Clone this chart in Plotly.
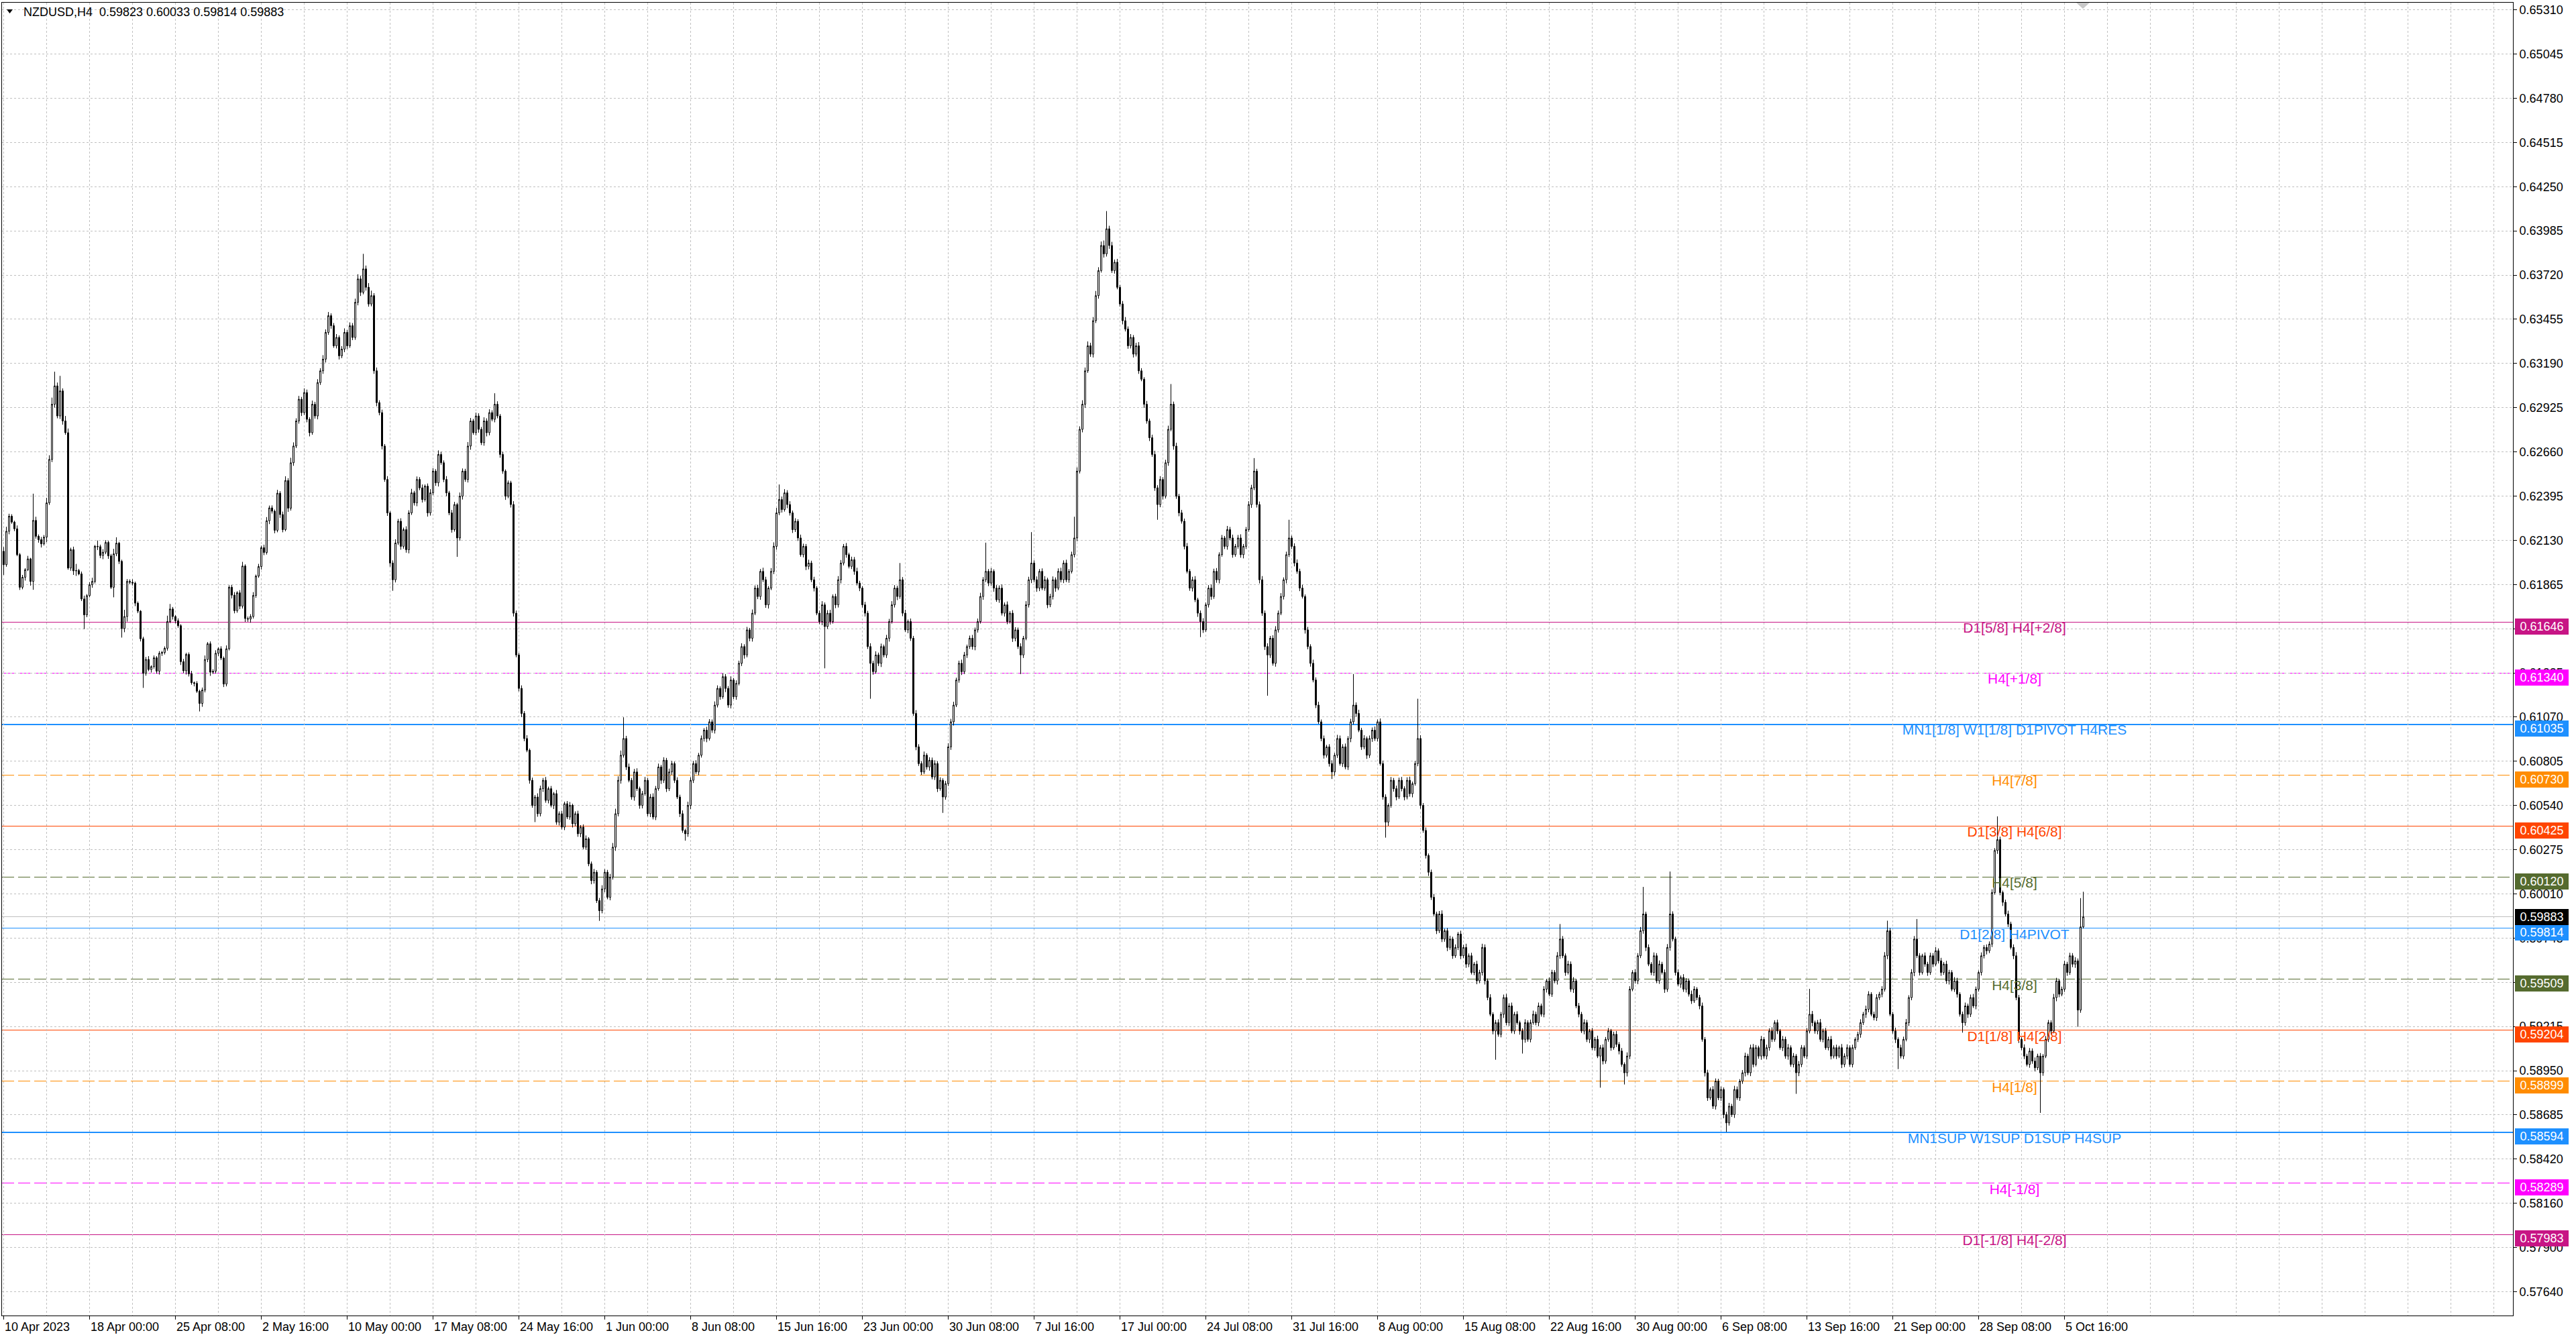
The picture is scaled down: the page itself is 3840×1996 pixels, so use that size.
import math
import plotly.graph_objects as go

# ---------------- DATA (prices in 1e-5 units) ----------------
first_open = 62070

bar_close = [
    61990, 62190, 62280, 62245, 62205, 62050, 61855, 61915, 61960, 62025,
    61890, 62255, 62160, 62140, 62115, 62155, 62360, 62620, 62950, 63060,
    62880, 63030, 62850, 62780, 61970, 62080, 61953, 61955, 61935, 61785,
    61690, 61805, 61870, 61890, 62100, 62098, 62045, 62065, 62123, 62043,
    61855, 62055, 62119, 62010, 61608, 61680, 61890, 61885, 61880, 61760,
    61712, 61547, 61340, 61423, 61363, 61380, 61433, 61353, 61460, 61465,
    61490, 61650, 61725, 61680, 61655, 61625, 61410, 61355, 61453, 61337,
    61284, 61280, 61233, 61160, 61240, 61423, 61517, 61347, 61353, 61460,
    61487, 61431, 61276, 61487, 61855, 61808, 61715, 61822, 61742, 61982,
    61668, 61665, 61680, 61806, 61922, 61979, 62092, 62063, 62253, 62330,
    62310, 62196, 62418, 62290, 62200, 62494, 62328, 62600, 62700, 62850,
    62980, 62900, 63020, 62860, 62780, 62950, 62880, 63080, 63150, 63220,
    63380, 63480, 63420, 63300, 63350, 63240, 63280, 63380, 63300, 63420,
    63350, 63560, 63700, 63620, 63760, 63650, 63550, 63600, 63150, 62960,
    62900, 62700, 62500, 62300, 62000, 61900, 62120, 62250, 62100, 62200,
    62080, 62300, 62420, 62360, 62500, 62450, 62380, 62460, 62300, 62420,
    62550, 62480, 62650, 62600, 62500, 62420, 62300, 62200, 62350, 62150,
    62400, 62550, 62500, 62700, 62850, 62780, 62880, 62800, 62720, 62850,
    62780, 62900, 62860, 62950, 62880, 62650, 62550, 62400, 62480, 62350,
    61700, 61450, 61250, 61100, 60950, 60880, 60700, 60550, 60600, 60500,
    60650, 60700, 60580, 60650, 60550, 60620, 60450, 60500, 60420, 60560,
    60480, 60550, 60440, 60500, 60380, 60420, 60300, 60350, 60200, 60100,
    60150, 59980, 59920, 60050, 60150, 60000, 60120, 60300, 60500, 60700,
    60850, 60950, 60780, 60700, 60600, 60750, 60650, 60550, 60620, 60700,
    60500, 60600, 60480, 60650, 60780, 60700, 60820, 60650, 60750, 60800,
    60700, 60600, 60500, 60400, 60380, 60550, 60700, 60800, 60750, 60850,
    60950, 61000, 60950, 61050, 61000, 61150, 61250, 61200, 61320, 61250,
    61150, 61300, 61200, 61280, 61400, 61500, 61450, 61600, 61550, 61700,
    61850, 61800, 61950, 61900, 61750, 61850, 61950, 62100, 62300, 62380,
    62320, 62420, 62350, 62300, 62200, 62250, 62150, 62050, 62100, 61980,
    62000, 61900, 61850, 61700, 61650, 61750, 61620, 61700, 61650, 61800,
    61750, 61900, 62000, 62100, 62050, 61980, 62020, 61950, 61880, 61850,
    61750, 61700, 61500, 61400, 61350, 61450, 61400, 61500, 61450, 61550,
    61650, 61750, 61850, 61800, 61900, 61700, 61600, 61650, 61550, 61100,
    60900, 60800, 60750, 60850, 60780, 60820, 60720, 60800, 60650, 60700,
    60600, 60680, 60900, 61050, 61150, 61300, 61400, 61350, 61450, 61500,
    61550, 61500, 61600, 61650, 61800, 61900, 61950, 61880, 61950, 61850,
    61780, 61850, 61700, 61750, 61650, 61700, 61550, 61600, 61500, 61450,
    61550, 61750, 61900, 62000, 61900, 61850, 61950, 61850, 61900, 61750,
    61800, 61900, 61850, 61950, 61900, 62000, 61900, 61950, 62050, 62150,
    62550, 62800, 62950, 63150, 63300, 63250, 63450, 63600, 63750, 63900,
    63850, 64000, 63900, 63750, 63800, 63650, 63550, 63450, 63400, 63300,
    63350, 63250, 63300, 63150, 63100, 62950, 62850, 62750, 62650, 62450,
    62350, 62500, 62400, 62600, 62800, 62950, 62700, 62400, 62300, 62250,
    62100, 61950, 61850, 61900, 61780, 61700, 61650, 61600, 61750, 61850,
    61800, 61950, 61900, 62050, 62150, 62100, 62200, 62150, 62050, 62100,
    62150, 62050, 62100, 62200, 62350, 62450, 62550, 62350, 61900, 61700,
    61500, 61450, 61550, 61400, 61600, 61700, 61800, 61900, 62050, 62150,
    62100, 62000, 61950, 61850, 61800, 61600, 61500, 61400, 61300, 61150,
    61050, 60950, 60850, 60900, 60800, 60750, 60850, 60950, 60800, 60900,
    60780, 60950, 61050, 61150, 61100, 61000, 60900, 60950, 60850, 60950,
    61000, 60950, 61050, 60800, 60600, 60450, 60550, 60700, 60650, 60600,
    60700, 60650, 60600, 60700, 60620, 60680, 60800, 60950, 60550, 60400,
    60250, 60150, 60000, 59900, 59800, 59900, 59750, 59800, 59700, 59750,
    59650, 59700, 59780, 59650, 59700, 59600, 59650, 59550, 59600, 59500,
    59550, 59700, 59500, 59400, 59300, 59200, 59250, 59180, 59300, 59400,
    59250, 59350, 59200, 59300, 59250, 59200, 59150, 59250, 59150, 59250,
    59300, 59250, 59350, 59300, 59450, 59500, 59420, 59550, 59500, 59650,
    59750, 59650, 59550, 59600, 59450, 59500, 59350, 59300, 59200, 59250,
    59150, 59200, 59100, 59150, 59050, 59100, 59020, 59150, 59200, 59100,
    59180, 59120, 59080, 59000, 58950, 59050, 59450, 59550, 59500, 59650,
    59800, 59900, 59700, 59600, 59550, 59650, 59500, 59600, 59550, 59450,
    59700, 59900, 59750, 59550, 59480, 59520, 59450, 59500, 59420, 59380,
    59450, 59400, 59350, 59150, 58950, 58800, 58850, 58750, 58900, 58800,
    58850, 58700, 58650, 58750, 58700, 58850, 58800, 58900, 58950, 59050,
    58950, 59100, 59000, 59100, 59050, 59150, 59050, 59100, 59200, 59150,
    59250, 59200, 59100, 59150, 59050, 59100, 59000, 59050, 58950, 59000,
    59100, 59050, 59200, 59300, 59250, 59200, 59250, 59150, 59200, 59100,
    59150, 59050, 59100, 59050, 59100, 59000, 59050, 59100, 59000, 59100,
    59150, 59180, 59250, 59300, 59330, 59420, 59300, 59280, 59400, 59420,
    59450, 59650, 59800, 59300, 59200, 59150, 59100, 59050, 59150, 59250,
    59400, 59550, 59750, 59650, 59550, 59650, 59600, 59550, 59650, 59600,
    59680, 59620, 59550, 59600, 59500, 59550, 59450, 59500, 59420, 59300,
    59250, 59350, 59300, 59400, 59350, 59450, 59550, 59650, 59700, 59680,
    59720, 60028, 60280, 60345, 60028, 59970, 59900, 59840, 59700, 59650,
    59400, 59150, 59100, 59050, 59000, 59080, 59020, 58980, 59050, 58950,
    59050, 59150, 59250, 59200, 59400, 59500, 59420, 59450, 59600, 59550,
    59650, 59600, 59620, 59325, 59823, 59883,
]

upper_wick = [
    26, 27, 15, 12, 8, 20, 10, 14, 9, 18, 6, 160, 22, 11, 16, 13, 30, 25, 40, 85,
    20, 90, 15, 30, 25, 12, 18, 40, 10, 14, 20, 9, 16, 22, 8, 35, 12, 18, 14, 10,
    12, 30, 35, 8, 10, 40, 14, 12, 18, 9, 10, 6, 12, 15, 20, 8, 14, 10, 13, 9,
    11, 35, 30, 12, 8, 14, 9, 16, 10, 12, 18, 7, 13, 9, 15, 24, 10, 14, 12, 18,
    8, 15, 10, 20, 12, 14, 18, 9, 16, 25, 10, 12, 14, 20, 9, 16, 12, 18, 22, 14,
    15, 10, 20, 12, 18, 25, 14, 30, 22, 16, 20, 14, 25, 18, 12, 22, 15, 20, 16, 24,
    18, 22, 14, 16, 20, 12, 18, 24, 14, 20, 16, 22, 28, 18, 90, 20, 25, 30, 15, 20,
    14, 18, 12, 20, 10, 16, 22, 14, 18, 12, 20, 16, 24, 12, 18, 14, 20, 10, 16, 22,
    18, 12, 24, 16, 14, 20, 12, 18, 16, 10, 22, 16, 14, 24, 18, 12, 20, 16, 14, 22,
    16, 20, 14, 66, 18, 12, 16, 10, 14, 12, 20, 16, 12, 18, 14, 20, 10, 16, 12, 22,
    18, 14, 20, 12, 16, 10, 22, 14, 18, 12, 16, 20, 10, 14, 18, 12, 16, 20, 10, 14,
    20, 12, 16, 22, 18, 14, 20, 25, 30, 24, 28, 127, 16, 20, 14, 18, 22, 12, 16, 20,
    14, 18, 22, 16, 20, 12, 18, 14, 20, 16, 12, 18, 14, 20, 10, 22, 18, 16, 20, 14,
    18, 12, 20, 16, 14, 22, 18, 12, 20, 16, 14, 22, 12, 18, 16, 20, 14, 18, 12, 22,
    16, 20, 14, 22, 18, 12, 20, 24, 30, 90, 18, 22, 16, 20, 14, 18, 12, 20, 16, 14,
    20, 14, 18, 12, 16, 22, 14, 18, 20, 12, 16, 22, 18, 14, 20, 12, 18, 16, 22, 14,
    12, 18, 14, 20, 16, 22, 14, 18, 12, 20, 16, 22, 18, 14, 100, 16, 20, 12, 18, 14,
    20, 16, 14, 22, 12, 18, 16, 20, 14, 18, 12, 16, 22, 18, 20, 14, 16, 22, 18, 12,
    16, 20, 14, 18, 22, 16, 172, 14, 20, 12, 18, 16, 22, 14, 20, 12, 18, 16, 14, 20,
    14, 22, 18, 185, 16, 20, 14, 18, 22, 12, 16, 20, 14, 18, 22, 16, 20, 14, 18, 127,
    22, 18, 24, 20, 26, 18, 22, 28, 20, 24, 30, 106, 18, 22, 16, 20, 14, 18, 22, 16,
    20, 14, 18, 22, 16, 12, 20, 14, 18, 22, 16, 20, 14, 18, 22, 121, 16, 20, 14, 18,
    16, 20, 14, 18, 22, 12, 16, 20, 14, 18, 22, 16, 20, 14, 18, 12, 22, 16, 20, 14,
    18, 22, 14, 16, 20, 18, 78, 14, 18, 22, 16, 20, 14, 18, 22, 16, 20, 14, 18, 109,
    14, 18, 22, 16, 20, 12, 18, 14, 22, 16, 20, 14, 18, 12, 16, 20, 14, 22, 18, 16,
    20, 14, 18, 186, 16, 22, 14, 20, 12, 18, 16, 22, 14, 20, 18, 16, 12, 20, 14, 18,
    16, 20, 14, 18, 22, 12, 16, 238, 20, 14, 18, 12, 16, 20, 14, 18, 22, 12, 16, 20,
    14, 18, 12, 20, 16, 22, 14, 18, 12, 20, 16, 22, 18, 14, 20, 12, 16, 20, 14, 18,
    22, 16, 20, 14, 18, 12, 16, 20, 14, 18, 22, 16, 20, 14, 18, 12, 20, 16, 14, 22,
    90, 18, 14, 20, 16, 22, 12, 18, 14, 20, 16, 12, 18, 14, 22, 16, 20, 14, 18, 12,
    16, 20, 14, 18, 12, 22, 18, 14, 20, 16, 22, 162, 14, 18, 12, 20, 16, 22, 14, 18,
    20, 254, 16, 14, 18, 12, 20, 16, 14, 22, 18, 12, 16, 20, 14, 18, 12, 20, 16, 14,
    18, 12, 16, 20, 14, 22, 18, 12, 16, 20, 14, 18, 22, 16, 12, 20, 14, 18, 16, 22,
    14, 18, 12, 20, 16, 22, 14, 18, 12, 20, 16, 14, 18, 152, 20, 12, 16, 22, 14, 18,
    16, 20, 14, 18, 12, 22, 16, 20, 14, 18, 12, 16, 20, 14, 22, 18, 12, 16, 20, 14,
    18, 22, 60, 16, 14, 20, 12, 18, 16, 22, 14, 20, 18, 120, 16, 12, 20, 14, 18, 16,
    22, 14, 18, 12, 20, 16, 14, 22, 18, 12, 16, 20, 14, 18, 22, 16, 12, 20, 14, 18,
    16, 20, 14, 139, 18, 12, 16, 20, 14, 18, 22, 16, 12, 20, 14, 18, 16, 22, 14, 18,
    12, 20, 16, 14, 22, 18, 12, 16, 20, 14, 18, 16, 22, 14, 172, 150,
]

lower_wick = [
    61, 12, 18, 10, 14, 9, 16, 12, 20, 8, 25, 50, 14, 18, 22, 10, 30, 12, 16, 20,
    14, 18, 22, 12, 10, 16, 24, 30, 8, 12, 85, 14, 10, 18, 12, 20, 16, 22, 12, 18,
    10, 60, 14, 16, 54, 22, 30, 12, 14, 18, 12, 16, 87, 14, 10, 18, 12, 15, 20, 16,
    12, 14, 10, 18, 16, 12, 20, 14, 22, 16, 12, 18, 10, 48, 20, 14, 16, 22, 10, 14,
    16, 12, 18, 14, 10, 20, 16, 12, 18, 14, 20, 16, 22, 12, 14, 10, 18, 16, 12, 20,
    14, 18, 12, 20, 16, 10, 22, 14, 18, 12, 16, 20, 14, 18, 22, 12, 16, 20, 14, 18,
    20, 14, 18, 12, 16, 22, 14, 18, 20, 12, 16, 14, 18, 22, 12, 20, 16, 14, 18, 22,
    16, 20, 14, 18, 22, 66, 16, 12, 20, 14, 18, 22, 12, 16, 20, 14, 18, 12, 22, 16,
    14, 18, 22, 12, 16, 20, 14, 18, 12, 113, 16, 20, 14, 18, 22, 12, 16, 20, 14, 18,
    22, 16, 12, 18, 14, 20, 16, 22, 12, 18, 20, 14, 18, 22, 16, 12, 20, 14, 100, 18,
    16, 20, 14, 18, 12, 22, 16, 20, 14, 18, 12, 16, 22, 14, 18, 20, 12, 16, 14, 22,
    18, 14, 61, 16, 20, 12, 18, 14, 22, 16, 20, 14, 18, 12, 16, 22, 14, 20, 18, 12,
    16, 20, 14, 18, 12, 22, 16, 20, 14, 18, 16, 12, 20, 14, 41, 18, 22, 16, 12, 20,
    14, 18, 22, 12, 16, 20, 14, 18, 12, 22, 16, 20, 14, 18, 12, 16, 22, 14, 18, 20,
    12, 16, 20, 14, 18, 22, 12, 16, 20, 14, 18, 12, 22, 16, 20, 14, 18, 12, 16, 22,
    18, 14, 20, 12, 16, 22, 250, 14, 18, 12, 20, 16, 22, 14, 18, 12, 16, 20, 14, 18,
    16, 20, 14, 212, 18, 12, 16, 22, 14, 18, 20, 12, 16, 22, 14, 18, 12, 20, 16, 14,
    20, 14, 18, 12, 16, 22, 14, 18, 20, 12, 95, 16, 14, 18, 22, 12, 16, 20, 14, 18,
    14, 18, 22, 16, 12, 20, 14, 18, 16, 22, 12, 18, 14, 20, 16, 12, 22, 18, 14, 114,
    18, 12, 16, 20, 14, 22, 18, 12, 16, 20, 14, 18, 22, 12, 16, 20, 14, 18, 12, 16,
    20, 14, 18, 22, 12, 16, 20, 14, 18, 12, 22, 16, 20, 14, 18, 12, 16, 22, 14, 18,
    16, 20, 14, 18, 12, 22, 16, 20, 14, 18, 91, 16, 20, 14, 18, 12, 22, 16, 20, 14,
    18, 12, 16, 20, 14, 22, 93, 18, 12, 16, 20, 14, 18, 22, 12, 16, 20, 14, 18, 12,
    14, 18, 22, 16, 12, 20, 14, 18, 22, 16, 20, 244, 18, 14, 20, 16, 12, 18, 22, 14,
    16, 20, 14, 18, 12, 22, 16, 20, 14, 18, 12, 16, 20, 14, 18, 42, 22, 16, 12, 20,
    14, 18, 22, 16, 20, 12, 18, 14, 22, 16, 20, 14, 18, 12, 16, 93, 22, 14, 18, 20,
    12, 16, 20, 14, 18, 22, 12, 16, 20, 14, 18, 22, 16, 12, 20, 14, 18, 16, 22, 14,
    18, 12, 16, 20, 14, 22, 18, 12, 16, 20, 14, 18, 22, 16, 12, 20, 172, 14, 18, 22,
    16, 20, 14, 18, 12, 22, 85, 20, 14, 18, 12, 16, 22, 14, 18, 20, 12, 16, 14, 22,
    18, 14, 20, 12, 16, 22, 14, 18, 12, 20, 16, 22, 14, 18, 12, 189, 20, 16, 14, 18,
    12, 16, 20, 14, 70, 22, 18, 12, 16, 20, 14, 18, 22, 12, 16, 20, 14, 18, 12, 22,
    16, 20, 14, 18, 12, 22, 16, 20, 14, 18, 12, 16, 20, 14, 22, 18, 12, 16, 20, 14,
    18, 22, 54, 16, 14, 20, 12, 18, 16, 22, 14, 20, 18, 12, 16, 22, 14, 20, 18, 16,
    14, 18, 12, 20, 16, 22, 14, 18, 126, 20, 16, 12, 18, 14, 22, 16, 20, 14, 18, 12,
    16, 20, 14, 18, 12, 22, 16, 20, 14, 18, 12, 16, 20, 14, 22, 18, 12, 16, 20, 14,
    18, 14, 20, 12, 16, 22, 128, 14, 18, 12, 20, 16, 22, 14, 18, 12, 16, 20, 14, 18,
    12, 16, 20, 14, 18, 22, 12, 16, 20, 14, 60, 18, 22, 16, 12, 20, 14, 18, 16, 22,
    14, 18, 12, 20, 16, 22, 14, 18, 12, 20, 16, 22, 14, 18, 12, 20, 16, 22, 14, 240,
    18, 12, 16, 20, 14, 22, 18, 12, 16, 20, 14, 18, 22, 100, 16, 9,
]

x_tick_labels = [
    "10 Apr 2023", "18 Apr 00:00", "25 Apr 08:00", "2 May 16:00", "10 May 00:00",
    "17 May 08:00", "24 May 16:00", "1 Jun 00:00", "8 Jun 08:00", "15 Jun 16:00",
    "23 Jun 00:00", "30 Jun 08:00", "7 Jul 16:00", "17 Jul 00:00", "24 Jul 08:00",
    "31 Jul 16:00", "8 Aug 00:00", "15 Aug 08:00", "22 Aug 16:00", "30 Aug 00:00",
    "6 Sep 08:00", "13 Sep 16:00", "21 Sep 00:00", "28 Sep 08:00", "5 Oct 16:00",
]

y_tick_labels = [
    "0.65310", "0.65045", "0.64780", "0.64515", "0.64250", "0.63985", "0.63720",
    "0.63455", "0.63190", "0.62925", "0.62660", "0.62395", "0.62130", "0.61865",
    "0.61600", "0.61335", "0.61070", "0.60805", "0.60540", "0.60275", "0.60010",
    "0.59745", "0.59480", "0.59215", "0.58950", "0.58685", "0.58420", "0.58160",
    "0.57900", "0.57640",
]

level_prices = [0.61646, 0.61340, 0.61035, 0.60730, 0.60425, 0.60120, 0.59814,
                0.59509, 0.59204, 0.58899, 0.58594, 0.58289, 0.57983]
level_names = ["D1[5/8] H4[+2/8]", "H4[+1/8]", "MN1[1/8] W1[1/8] D1PIVOT H4RES",
               "H4[7/8]", "D1[3/8] H4[6/8]", "H4[5/8]", "D1[2/8] H4PIVOT",
               "H4[3/8]", "D1[1/8] H4[2/8]", "H4[1/8]", "MN1SUP W1SUP D1SUP H4SUP",
               "H4[-1/8]", "D1[-1/8] H4[-2/8]"]
current_price = 0.59883
symbol_title = "NZDUSD,H4"

# ---------------- STYLE ----------------
level_colors = ["#C71585", "#FF00FF", "#1E90FF", "#FF8C00", "#FF4500", "#556B2F",
                "#1E90FF", "#556B2F", "#FF4500", "#FF8C00", "#1E90FF", "#FF00FF", "#C71585"]
level_dash = ["solid", "18px,6px", "solid", "18px,6px", "solid", "18px,6px", "solid",
              "18px,6px", "solid", "18px,6px", "solid", "18px,6px", "solid"]
level_width = [1, 1, 2, 1, 1, 1, 1, 1, 1, 1, 2, 1, 1]

FONT = "Liberation Sans, Arial, sans-serif"
W, H = 3840, 1996
PL, PR, PT, PB = 3, 3746, 4, 1961          # plot area in pixels
TOP_TICK_PX, BOT_TICK_PX = 14.7, 1925.5     # pixel rows of first/last price grid line
TOP_TICK, BOT_TICK = 0.65310, 0.57640
BAR_PX = 4.0
FIRST_BAR_PX = 5.5                           # half-pixel centre -> crisp wicks
LABEL_PX_X = 3003
GRID = "#C0C0C0"

px_per_price = (BOT_TICK_PX - TOP_TICK_PX) / (TOP_TICK - BOT_TICK)


def price_at(py):
    return TOP_TICK - (py - TOP_TICK_PX) / px_per_price


def px_of_price(p):
    return TOP_TICK_PX + (TOP_TICK - p) * px_per_price


def idx_at(px):
    return (px - FIRST_BAR_PX) / BAR_PX


def paper_x(px):
    return (px - PL) / (PR - PL)


def paper_y(py):
    return (PB - py) / (PB - PT)


def snapped_paper_y(p, width):
    py = px_of_price(p)
    py = (math.floor(py) + 0.5) if width % 2 == 1 else round(py)
    return paper_y(py)


# ---------------- BUILD ----------------
P = 1e-5
n = len(bar_close)
assert len(upper_wick) == n and len(lower_wick) == n, (n, len(upper_wick), len(lower_wick))
opens = [first_open] + bar_close[:-1]
highs = [max(o, c) + u for o, c, u in zip(opens, bar_close, upper_wick)]
lows = [min(o, c) - l for o, c, l in zip(opens, bar_close, lower_wick)]
xs = list(range(n))

fig = go.Figure()

# level labels (drawn under candles)
label_x = idx_at(LABEL_PX_X)
fig.add_trace(go.Scatter(
    x=[label_x] * len(level_prices), y=level_prices, mode="text",
    text=level_names, textposition="bottom center",
    textfont=dict(family=FONT, size=21, color=level_colors),
    hoverinfo="skip", cliponaxis=False, showlegend=False))

fig.add_trace(go.Candlestick(
    x=xs,
    open=[v * P for v in opens], high=[v * P for v in highs],
    low=[v * P for v in lows], close=[v * P for v in bar_close],
    increasing=dict(line=dict(color="black", width=1), fillcolor="white"),
    decreasing=dict(line=dict(color="black", width=1), fillcolor="black"),
    whiskerwidth=0, hoverinfo="skip", showlegend=False))

shapes = []
for p, c, d, w in zip(level_prices, level_colors, level_dash, level_width):
    yp = snapped_paper_y(p, w)
    shapes.append(dict(type="line", xref="paper", x0=0, x1=1, yref="paper", y0=yp, y1=yp,
                       line=dict(color=c, width=w, dash=d), layer="below"))
yp = snapped_paper_y(current_price, 1)
shapes.append(dict(type="line", xref="paper", x0=0, x1=1, yref="paper", y0=yp, y1=yp,
                   line=dict(color="#C0C0C0", width=1), layer="below"))
# header triangle
shapes.append(dict(type="path", xref="paper", yref="paper",
                   path="M {:.6f},{:.6f} L {:.6f},{:.6f} L {:.6f},{:.6f} Z".format(
                       paper_x(10), paper_y(14), paper_x(19), paper_y(14), paper_x(14.5), paper_y(20)),
                   fillcolor="black", line=dict(width=0)))
# chart-shift marker
shapes.append(dict(type="path", xref="paper", yref="paper",
                   path="M {:.6f},{:.6f} L {:.6f},{:.6f} L {:.6f},{:.6f} Z".format(
                       paper_x(3095), paper_y(PT), paper_x(3115), paper_y(PT), paper_x(3105), paper_y(PT + 9)),
                   fillcolor="#C8C8C8", line=dict(width=0)))

annotations = []
# header
o_last, h_last, l_last, c_last = opens[-1] * P, highs[-1] * P, lows[-1] * P, bar_close[-1] * P
annotations.append(dict(
    xref="paper", yref="paper", x=paper_x(33), y=paper_y(18), xanchor="left", yanchor="middle",
    text="{}\u00a0\u00a0{:.5f} {:.5f} {:.5f} {:.5f}".format(symbol_title, o_last, h_last, l_last, c_last),
    showarrow=False, font=dict(family=FONT, size=18, color="black")))

# x labels (left-aligned at ticks)
x_ticks = [32 * k for k in range(len(x_tick_labels))]
for xv, t in zip(x_ticks, x_tick_labels):
    annotations.append(dict(xref="x", yref="paper", x=xv, y=0, xanchor="left", yanchor="middle",
                            yshift=-17, xshift=-1, text=t, showarrow=False,
                            font=dict(family=FONT, size=18, color="black")))

# right-side price boxes
for p, c in zip(level_prices, level_colors):
    annotations.append(dict(xref="paper", yref="y", x=paper_x(3749), y=p, xanchor="left",
                            yanchor="middle", yshift=-6, text="{:.5f}".format(p), showarrow=False,
                            bgcolor=c, bordercolor=c, borderpad=1, width=76, height=20, align="center",
                            font=dict(family=FONT, size=18, color="white")))
annotations.append(dict(xref="paper", yref="y", x=paper_x(3749), y=current_price, xanchor="left",
                        yanchor="middle", text="{:.5f}".format(current_price), showarrow=False,
                        bgcolor="black", bordercolor="black", borderpad=1, width=76, height=20,
                        align="center", font=dict(family=FONT, size=18, color="white")))

tick_step = (TOP_TICK - BOT_TICK) / (len(y_tick_labels) - 1)
y_tickvals = [TOP_TICK - k * tick_step for k in range(len(y_tick_labels))]

fig.update_layout(
    width=W, height=H,
    margin=dict(l=PL, r=W - PR, t=PT, b=H - PB, pad=0),
    paper_bgcolor="white", plot_bgcolor="white",
    showlegend=False, hovermode=False,
    boxgap=0.5, boxgroupgap=0,
    shapes=shapes, annotations=annotations,
    font=dict(family=FONT, size=18, color="black"),
    xaxis=dict(
        range=[idx_at(PL), idx_at(PR)], rangeslider=dict(visible=False),
        tickmode="array", tickvals=x_ticks, showticklabels=False,
        ticks="outside", ticklen=5, tickcolor="black", tickwidth=1,
        showgrid=True, gridcolor=GRID, griddash="3px,3px", gridwidth=1,
        minor=dict(tickmode="linear", tick0=0, dtick=16, showgrid=True, gridcolor=GRID,
                   griddash="3px,3px", gridwidth=1, ticks=""),
        showline=True, linecolor="black", linewidth=1, mirror=True, zeroline=False,
        fixedrange=True),
    yaxis=dict(
        range=[price_at(PB), price_at(PT)], side="right",
        tickmode="array", tickvals=y_tickvals, ticktext=y_tick_labels,
        ticks="outside", ticklen=5, tickcolor="black", tickwidth=1,
        tickfont=dict(family=FONT, size=18, color="black"),
        showgrid=True, gridcolor=GRID, griddash="3px,3px", gridwidth=1,
        showline=True, linecolor="black", linewidth=1, mirror=True, zeroline=False,
        fixedrange=True),
)

fig.write_html("out.html", config=dict(displayModeBar=False, staticPlot=True),
               post_script="document.body.style.margin='0';document.body.style.overflow='hidden';")
